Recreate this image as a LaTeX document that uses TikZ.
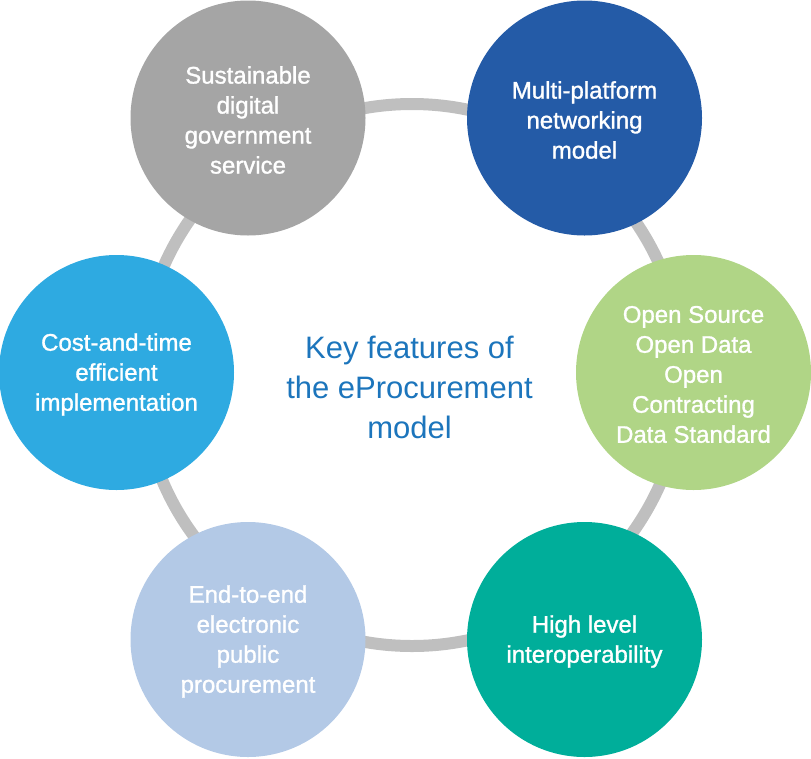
\documentclass[tikz,border=0pt]{standalone}
\usepackage{fontspec}
\setmainfont{Liberation Sans}
\newfontfamily\featfont[FakeBold=1.2]{Liberation Sans}
\definecolor{ringgrey}{HTML}{BFBFBF}
\definecolor{cgrey}{HTML}{A5A5A5}
\definecolor{cdarkblue}{HTML}{245BA7}
\definecolor{cgreen}{HTML}{B0D586}
\definecolor{cteal}{HTML}{00AE9A}
\definecolor{clightblue}{HTML}{B3C9E6}
\definecolor{cblue}{HTML}{2EAAE1}
\definecolor{ctitle}{HTML}{1C75BC}
\tikzset{
  feature/.style={circle, minimum size=235pt, inner sep=0pt, draw=none},
  featlabel/.style={text=white, align=center, yshift=-2pt,
    font=\featfont\fontsize{24}{30}\selectfont},
  title/.style={align=center, text=ctitle, font=\fontsize{31}{40}\selectfont},
  ring/.style={draw=ringgrey, line width=12pt}
}
\begin{document}
\begin{tikzpicture}[x=1pt, y=-1pt]
\useasboundingbox (0,0) rectangle (811,758);
\coordinate (ringc) at (412,375);
\draw[ring] (ringc) circle[radius=271];
\node[feature, fill=cgrey, label={[featlabel]center:Sustainable\\digital\\government\\service}] (sust) at (248,118) {};
\node[feature, fill=cdarkblue, label={[featlabel]center:Multi-platform\\networking\\model}] (multi) at (584.5,118) {};
\node[feature, fill=cgreen, label={[featlabel]center:Open Source\\Open Data\\Open\\Contracting\\Data Standard}] (open) at (693.5,372.5) {};
\node[feature, fill=cteal, label={[featlabel]center:High level\\interoperability}] (high) at (584.5,639.5) {};
\node[feature, fill=clightblue, label={[featlabel]center:End-to-end\\electronic\\public\\procurement}] (end) at (248,639.5) {};
\node[feature, fill=cblue, label={[featlabel]center:Cost-and-time\\efficient\\implementation}] (cost) at (116.5,372.5) {};
\node[title] (key) at (409.5,387) {Key features of\\the eProcurement\\model};
\end{tikzpicture}
\end{document}
